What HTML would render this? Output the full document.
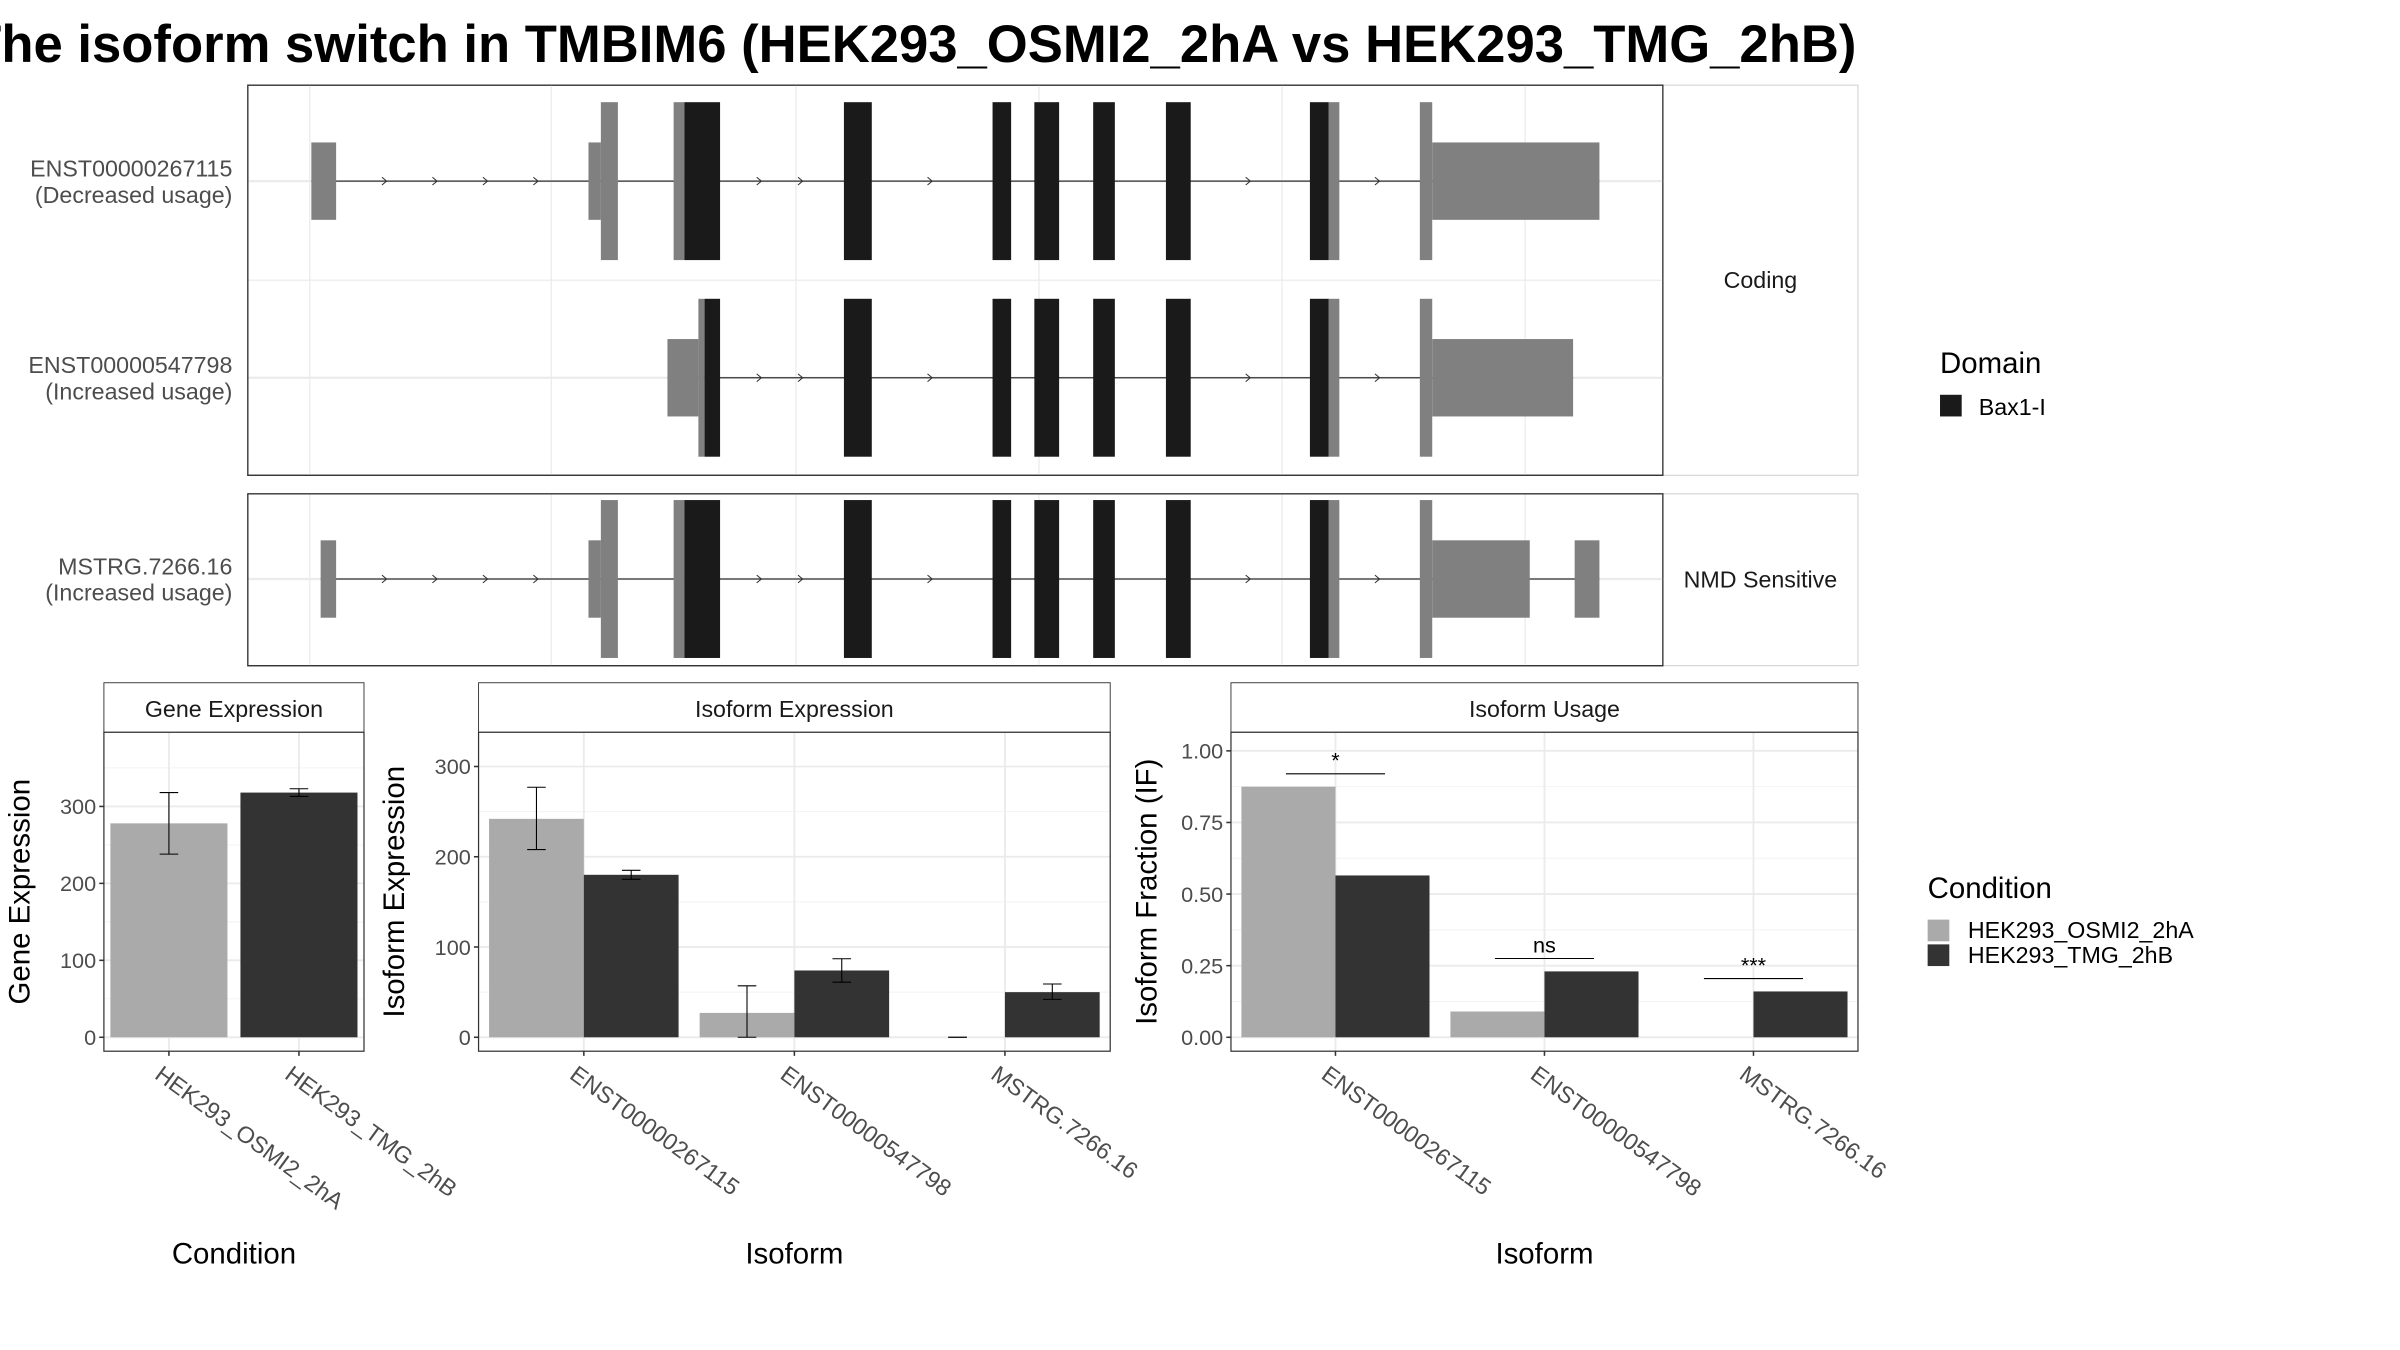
<!DOCTYPE html>
<html><head><meta charset="utf-8"><style>body{margin:0;background:#fff}svg{display:block;font-family:"Liberation Sans",sans-serif}</style></head>
<body>
<svg id="chart" width="2400" height="1350" viewBox="0 0 1550 872" xmlns="http://www.w3.org/2000/svg">
<defs><clipPath id="tc"><rect x="0" y="0" width="1207" height="60"/></clipPath></defs>
<text clip-path="url(#tc)" x="-20" y="40" font-size="34" font-weight="bold" fill="#000">The isoform switch in TMBIM6 (HEK293_OSMI2_2hA vs HEK293_TMG_2hB)</text>
<g id="g"></g>
</svg>
<script>
// ---- transcript structure (genomic coords in plot units) ----
const tx1Exons=[[201,217,'u'],[380,388,'u'],[388,399,'c'],[435,442,'c'],[442,465,'d'],[545,563,'d'],[641,653,'d'],[668,684,'d'],[706,720,'d'],[753,769,'d'],[846,858,'d'],[858,865,'c'],[917,925,'c'],[925,1033,'u']];
const tx2Exons=[[431,451,'u'],[451,455,'c'],[455,465,'d'],[545,563,'d'],[641,653,'d'],[668,684,'d'],[706,720,'d'],[753,769,'d'],[846,858,'d'],[858,865,'c'],[917,925,'c'],[925,1016,'u']];
const tx3Exons=[[207,217,'u'],[380,388,'u'],[388,399,'c'],[435,442,'c'],[442,465,'d'],[545,563,'d'],[641,653,'d'],[668,684,'d'],[706,720,'d'],[753,769,'d'],[846,858,'d'],[858,865,'c'],[917,925,'c'],[925,988,'u'],[1017,1033,'u']];
// ---- bar chart data ----
const conditions=['HEK293_OSMI2_2hA','HEK293_TMG_2hB'];
const geneExpr=[278,318];
const geneErrLo=[238,313];
const geneErrHi=[318,323];
const isoforms=['ENST00000267115','ENST00000547798','MSTRG.7266.16'];
const isoExprA=[242,27,0];
const isoExprB=[180,74,50];
const isoErrLoA=[208,0,0];const isoErrHiA=[277,57,0];
const isoErrLoB=[175,61,42];const isoErrHiB=[185,87,59];
const ifA=[0.875,0.09,0];
const ifB=[0.565,0.23,0.16];
const sigLabels=['*','ns','***'];
const sigY=[0.92,0.275,0.205];
const geneTicks=[0,100,200,300];
const isoTicks=[0,100,200,300];
const ifTicks=[0,0.25,0.5,0.75,1.0];
const ifTickLabels=['0.00','0.25','0.50','0.75','1.00'];

const NS='http://www.w3.org/2000/svg';
const G=document.getElementById('g');
function mk(tag,attrs,parent,text){const e=document.createElementNS(NS,tag);for(const k in attrs)e.setAttribute(k,attrs[k]);if(text!==undefined)e.textContent=text;(parent||G).appendChild(e);return e;}
const FILL={u:'#808080',c:'#808080',d:'#1a1a1a'};

// ---- transcript panels ----
function txPanel(x0,y0,x1,y1,stripLabel){
  const p=mk('rect',{x:x0,y:y0,width:x1-x0,height:y1-y0,fill:'#fff',stroke:'#333','stroke-width':0.8});
  
  
  [200,356,514,671,828,985].forEach(gx=>mk('line',{x1:gx,x2:gx,y1:y0,y2:y1,stroke:'#ebebeb','stroke-width':0.8}));
  const s=mk('rect',{x:x1,y:y0,width:1200-x1,height:y1-y0,fill:'#fff',stroke:'#ccc','stroke-width':0.6});
  
  
  const t=mk('text',{x:(x1+1200)/2,y:(y0+y1)/2+5,'font-size':15,'text-anchor':'middle',fill:'#1a1a1a'},G,stripLabel);
  
  
}
function drawTx(exons,cy,label1,label2,x0,x1){
  mk('line',{x1:x0,x2:x1,y1:cy,y2:cy,stroke:'#ebebeb','stroke-width':1.5});
  const first=exons[0][0],last=exons[exons.length-1][1];
  mk('line',{x1:first,x2:last,y1:cy,y2:cy,stroke:'#333','stroke-width':0.8});
  for(let i=0;i<exons.length-1;i++){const a=exons[i][1],b=exons[i+1][0];if(b-a>30){const n=Math.floor((b-a)/40);for(let k=1;k<=n;k++){const ax=a+(b-a)*k/(n+1)+ (n===0?0:0);mk('path',{d:`M${ax-3},${cy-2.5} L${ax},${cy} L${ax-3},${cy+2.5}`,stroke:'#333',fill:'none','stroke-width':0.7});}}}
  exons.forEach(e=>{const h=e[2]==='u'?25:51;const r=mk('rect',{x:e[0],y:cy-h,width:e[1]-e[0],height:2*h,fill:FILL[e[2]]});
    
    });
  const l=mk('text',{x:150,y:cy-3,'font-size':15,'text-anchor':'end',fill:'#4d4d4d'});
  
  
  mk('tspan',{x:150},l,label1);mk('tspan',{x:150,dy:17},l,label2);
}
txPanel(160,55,1074,307,'Coding');
mk('line',{x1:160,x2:1074,y1:181,y2:181,stroke:'#ebebeb','stroke-width':0.8});
drawTx(tx1Exons,117,'ENST00000267115','(Decreased usage)',160,1074);
drawTx(tx2Exons,244,'ENST00000547798','(Increased usage)',160,1074);
mk('rect',{x:160,y:55,width:914,height:252,fill:'none',stroke:'#333','stroke-width':0.8});
txPanel(160,319,1074,430,'NMD Sensitive');
drawTx(tx3Exons,374,'MSTRG.7266.16','(Increased usage)',160,1074);
mk('rect',{x:160,y:319,width:914,height:111,fill:'none',stroke:'#333','stroke-width':0.8});

// Domain legend
let t=mk('text',{x:1253,y:241,'font-size':19,fill:'#000'},G,'Domain');

let r=mk('rect',{x:1253,y:255,width:14,height:14,fill:'#1a1a1a'});

t=mk('text',{x:1278,y:268,'font-size':15,fill:'#000'},G,'Bax1-I');


// ---- bar panels ----
const PY0=473,PY1=679;
function barPanel(o){
  const {x0,x1,title,ymap,ticks,tickLabels,minor,cats,xtitle,ytitle}=o;
  const st=mk('rect',{x:x0,y:441,width:x1-x0,height:32,fill:'#fff',stroke:'#333','stroke-width':0.6});
  
  const stt=mk('text',{x:(x0+x1)/2,y:463,'font-size':15,'text-anchor':'middle',fill:'#1a1a1a'},G,title);
  
  mk('rect',{x:x0,y:PY0,width:x1-x0,height:PY1-PY0,fill:'#fff'});
  minor.forEach(v=>mk('line',{x1:x0,x2:x1,y1:ymap(v),y2:ymap(v),stroke:'#f2f2f2','stroke-width':0.6}));
  ticks.forEach(v=>mk('line',{x1:x0,x2:x1,y1:ymap(v),y2:ymap(v),stroke:'#ebebeb','stroke-width':1.2}));
  const bw=(x1-x0)/cats.length;const cx=i=>x0+bw*(i+0.5);
  cats.forEach((c,i)=>mk('line',{x1:cx(i),x2:cx(i),y1:PY0,y2:PY1,stroke:'#ebebeb','stroke-width':1.2}));
  ticks.forEach((v,i)=>{mk('line',{x1:x0-3,x2:x0,y1:ymap(v),y2:ymap(v),stroke:'#333'});
    const tl=mk('text',{x:x0-5,y:ymap(v)+5,'font-size':14,'text-anchor':'end',fill:'#4d4d4d'},G,tickLabels[i]);
    });
  cats.forEach((c,i)=>{mk('line',{x1:cx(i),x2:cx(i),y1:PY1,y2:PY1+3,stroke:'#333'});
    const tl=mk('text',{x:cx(i)-10,y:PY1+17,'font-size':15,fill:'#4d4d4d',transform:`rotate(36 ${cx(i)-10} ${PY1+17})`},G,c);
    });
  const xt=mk('text',{x:(x0+x1)/2,y:816,'font-size':19,'text-anchor':'middle',fill:'#000'},G,xtitle);
  
  const yx=x0-48;const yc=(PY0+PY1)/2;
  const yt=mk('text',{x:yx,y:yc,'font-size':19,'text-anchor':'middle',fill:'#000',transform:`rotate(-90 ${yx} ${yc})`},G,ytitle);
  
  return {cx,bw};
}
function bar(x,w,v,ymap,fill,name){const y=ymap(v);const b=mk('rect',{x:x,y:Math.min(y,ymap(0)),width:w,height:Math.abs(ymap(0)-y),fill:fill});
  }
function err(x,lo,hi,ymap){mk('line',{x1:x,x2:x,y1:ymap(lo),y2:ymap(hi),stroke:'#000','stroke-width':0.7});
  [lo,hi].forEach(v=>mk('line',{x1:x-6,x2:x+6,y1:ymap(v),y2:ymap(v),stroke:'#000','stroke-width':0.7}));}
function frame(x0,x1){mk('rect',{x:x0,y:PY0,width:x1-x0,height:PY1-PY0,fill:'none',stroke:'#333','stroke-width':0.8});}
const LA='#aaaaaa',DK='#333333';

// Gene expression
const gy=v=>670-v*0.497;
let P=barPanel({x0:67,x1:235,title:'Gene Expression',ymap:gy,ticks:geneTicks,tickLabels:geneTicks.map(String),minor:[50,150,250,350],cats:conditions,xtitle:'Condition',ytitle:'Gene Expression'});
conditions.forEach((c,i)=>{const w=P.bw*0.9;bar(P.cx(i)-w/2,w,geneExpr[i],gy,i===0?LA:DK,'bar-gene-'+c);err(P.cx(i),geneErrLo[i],geneErrHi[i],gy);});
frame(67,235);

// Isoform expression
const iy=v=>670-v*0.583;
P=barPanel({x0:309,x1:717,title:'Isoform Expression',ymap:iy,ticks:isoTicks,tickLabels:isoTicks.map(String),minor:[50,150,250],cats:isoforms,xtitle:'Isoform',ytitle:'Isoform Expression'});
isoforms.forEach((c,i)=>{const w=P.bw*0.45;
  bar(P.cx(i)-w,w,isoExprA[i],iy,LA,'bar-expr-osmi-'+c);bar(P.cx(i),w,isoExprB[i],iy,DK,'bar-expr-tmg-'+c);
  err(P.cx(i)-w/2,isoErrLoA[i],isoErrHiA[i],iy);err(P.cx(i)+w/2,isoErrLoB[i],isoErrHiB[i],iy);});
frame(309,717);

// Isoform usage
const uy=v=>670-v*185;
P=barPanel({x0:795,x1:1200,title:'Isoform Usage',ymap:uy,ticks:ifTicks,tickLabels:ifTickLabels,minor:[0.125,0.375,0.625,0.875],cats:isoforms,xtitle:'Isoform',ytitle:'Isoform Fraction (IF)'});
isoforms.forEach((c,i)=>{const w=P.bw*0.45;
  bar(P.cx(i)-w,w,ifA[i],uy,LA,'bar-if-osmi-'+c);bar(P.cx(i),w,ifB[i],uy,DK,'bar-if-tmg-'+c);
  mk('line',{x1:P.cx(i)-32,x2:P.cx(i)+32,y1:uy(sigY[i]),y2:uy(sigY[i]),stroke:'#000','stroke-width':0.7});
  const s=mk('text',{x:P.cx(i),y:uy(sigY[i])-4,'font-size':14,'text-anchor':'middle',fill:'#000'},G,sigLabels[i]);
  });
frame(795,1200);

// Condition legend
t=mk('text',{x:1245,y:580,'font-size':19,fill:'#000'},G,'Condition');

[[LA,conditions[0],594],[DK,conditions[1],610]].forEach(([f,l,y])=>{
  const k=mk('rect',{x:1245,y:y,width:14,height:14,fill:f});
  
  const lt=mk('text',{x:1271,y:y+12,'font-size':15,fill:'#000'},G,l);
  });
</script>
</body></html>
